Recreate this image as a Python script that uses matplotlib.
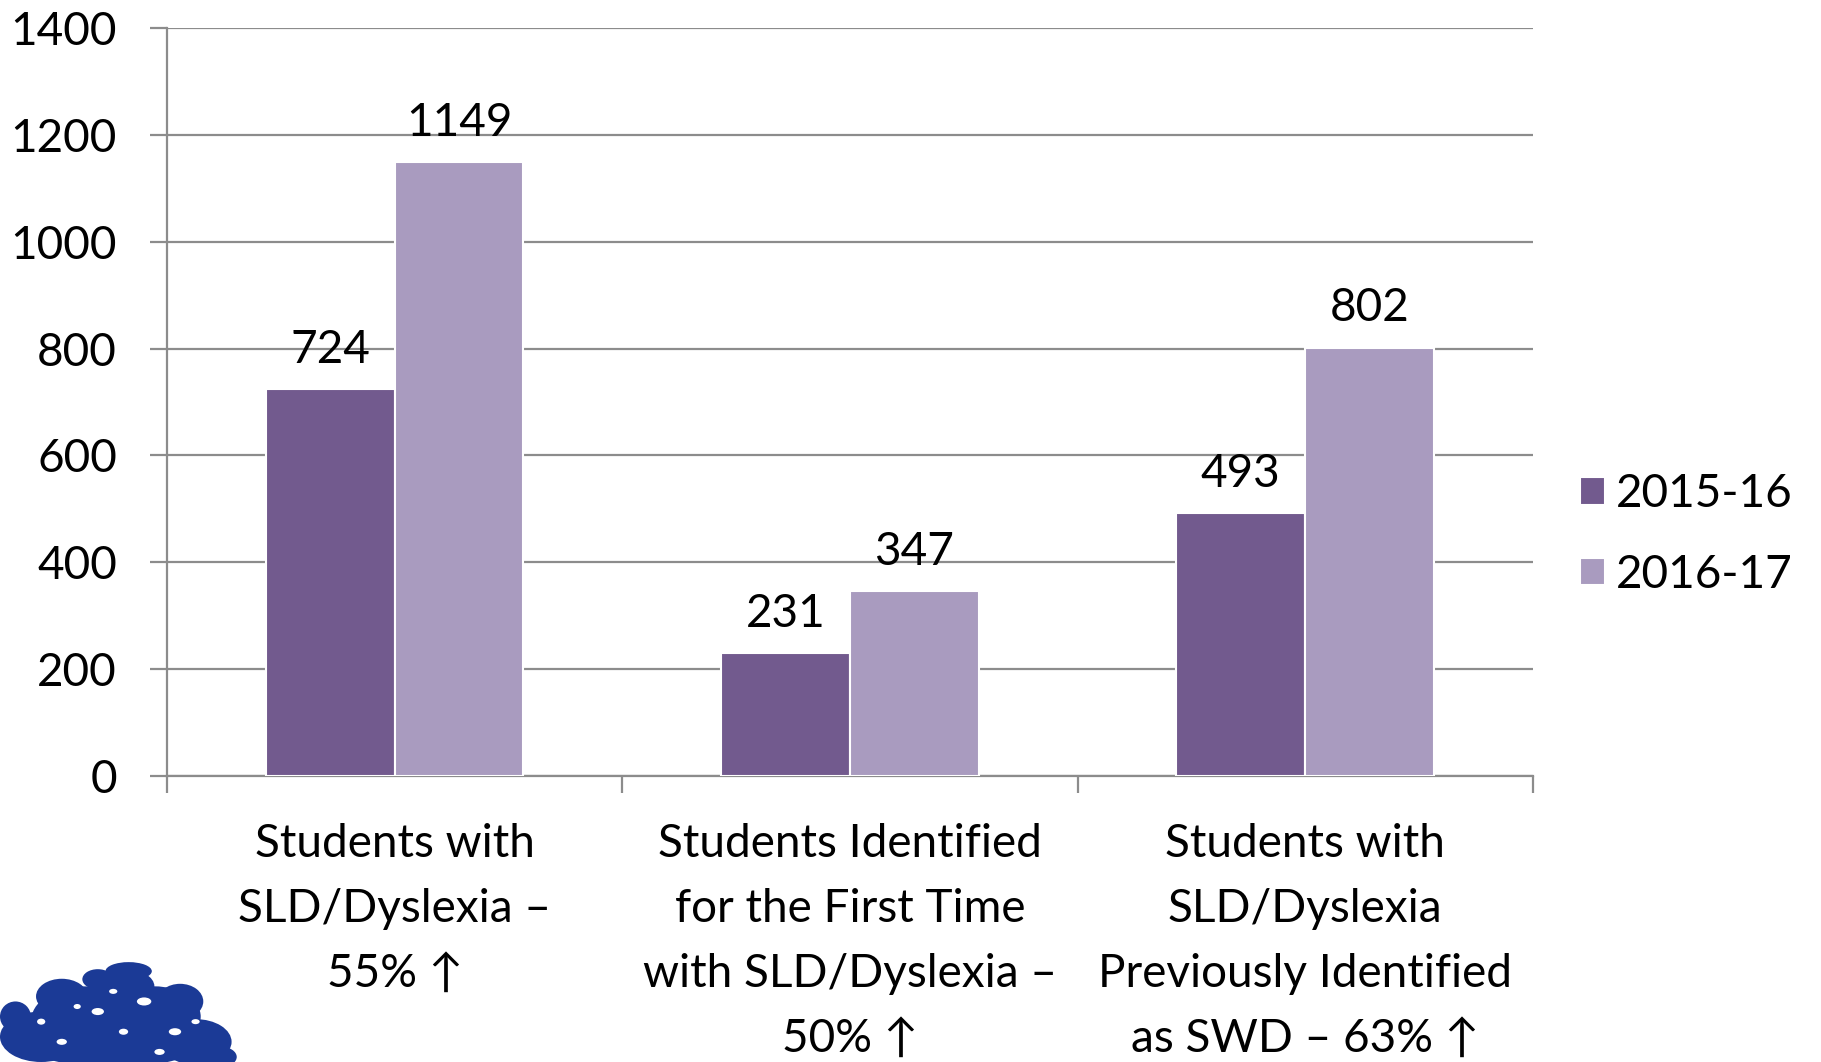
import matplotlib
matplotlib.use("Agg")
import matplotlib.pyplot as plt
from matplotlib.patches import Ellipse
import numpy as np

categories = [
    "Students with\nSLD/Dyslexia –\n55% ↑",
    "Students Identified\nfor the First Time\nwith SLD/Dyslexia –\n50% ↑",
    "Students with\nSLD/Dyslexia\nPreviously Identified\nas SWD – 63% ↑",
]
series_names = ["2015-16", "2016-17"]
values_2015 = [724, 231, 493]
values_2016 = [1149, 347, 802]
y_ticks = [0, 200, 400, 600, 800, 1000, 1200, 1400]

dark = "#725A8E"
light = "#A99BBF"
grid_c = "#8C8C8C"
fam = ["Lato", "DejaVu Sans"]
fs = 33

plt.rcParams["font.family"] = fam

fig = plt.figure(figsize=(18.21, 10.62), dpi=100)
ax = fig.add_axes([0.0917, 0.2693, 0.7501, 0.7043])

x = np.arange(len(categories))
w = 0.283
b1 = ax.bar(x - w / 2, values_2015, w, color=dark, edgecolor="white", linewidth=1.5,
            label=series_names[0], zorder=3)
b2 = ax.bar(x + w / 2, values_2016, w, color=light, edgecolor="white", linewidth=1.5,
            label=series_names[1], zorder=3)
for bars in (b1, b2):
    ax.bar_label(bars, labels=[str(v) for v in bars.datavalues], padding=13,
                 fontsize=fs, fontfamily=fam, color="black")

ax.set_xlim(-0.5, len(categories) - 0.5)
ax.set_ylim(0, 1400)
ax.set_yticks(y_ticks)
ax.set_yticklabels([str(t) for t in y_ticks], fontsize=fs, fontfamily=fam)
ax.yaxis.grid(True, color=grid_c, linewidth=1.6, zorder=0)
ax.set_axisbelow(True)
ax.tick_params(axis="y", length=12, width=1.6, color=grid_c, pad=24)

ax.set_xticks(x)
ax.set_xticklabels(categories, fontsize=fs, fontfamily=fam, va="top")
for lbl in ax.get_xticklabels():
    lbl.set_linespacing(1.67)
ax.tick_params(axis="x", which="major", length=0, pad=34)
ax.set_xticks(np.arange(-0.5, len(categories)), minor=True)
ax.tick_params(axis="x", which="minor", length=12, width=1.6, color=grid_c)

for s in ("top", "right"):
    ax.spines[s].set_visible(False)
for s in ("left", "bottom"):
    ax.spines[s].set_color(grid_c)
    ax.spines[s].set_linewidth(1.6)

leg = ax.legend(loc="center left", bbox_to_anchor=(1.004, 0.323), frameon=False,
                handlelength=0.55, handleheight=0.55,
                handletextpad=0.25, labelspacing=0.85, prop={"family": fam, "size": fs})

# Tree emblem in the lower-left corner
logo = fig.add_axes([0.0, 0.0, 0.13, 0.095])
logo.set_xlim(0, 230)
logo.set_ylim(100, 0)
logo.axis("off")
navy = "#1B3A96"
blobs = [
    (120, 25, 60, 35), (150, 55, 90, 60), (80, 60, 100, 70), (40, 75, 80, 50),
    (190, 80, 70, 45), (110, 85, 160, 40), (15, 55, 30, 30), (125, 10, 45, 18),
    (60, 35, 50, 35), (175, 40, 45, 35), (215, 95, 30, 20), (95, 18, 30, 20),
]
for cx, cy, ew, eh in blobs:
    logo.add_patch(Ellipse((cx, cy), ew, eh, color=navy, lw=0))
holes = [(95, 50, 12, 7), (140, 40, 14, 8), (60, 80, 10, 6), (170, 70, 12, 7),
         (120, 70, 9, 6), (40, 60, 8, 6), (155, 90, 10, 6), (110, 30, 8, 5),
         (75, 45, 7, 5), (190, 60, 8, 5)]
for cx, cy, ew, eh in holes:
    logo.add_patch(Ellipse((cx, cy), ew, eh, color="white", lw=0))

fig.savefig("out.png", dpi=100)
